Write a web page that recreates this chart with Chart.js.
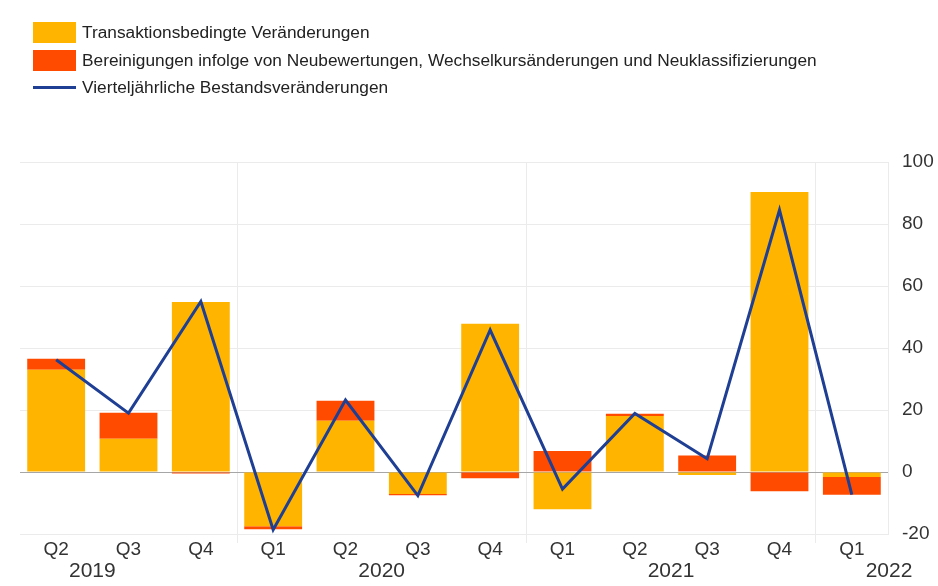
<!DOCTYPE html>
<html>
<head>
<meta charset="utf-8">
<script src="https://cdn.jsdelivr.net/npm/chart.js@4.4.1/dist/chart.umd.min.js"></script>
<style>
  html, body { margin: 0; padding: 0; background: #fff; }
  #wrap { position: relative; width: 938px; height: 586px; overflow: hidden; }
  #chart { position: absolute; left: 0; top: 0; }
  #legend { position: absolute; left: 33px; top: 22px; font: 17.3px "Liberation Sans", Arial, sans-serif; color: #222; }
  .item { position: relative; height: 21px; margin-bottom: 6.7px; white-space: nowrap; }
  .swatch { position: absolute; left: 0; top: 0; width: 43px; height: 21px; }
  .swatch.line { top: 9px; height: 3px; }
  .text { position: absolute; left: 49px; top: 0; line-height: 21px; }
</style>
</head>
<body>
<div id="wrap">
  <canvas id="chart" width="938" height="586"></canvas>
  <div id="legend"></div>
</div>
<script>
const FONT = '"Liberation Sans", Arial, sans-serif'
const TEXT_COLOR = '#333'

// x axis: quarters, years written underneath
const quarters = ['Q2', 'Q3', 'Q4', 'Q1', 'Q2', 'Q3', 'Q4', 'Q1', 'Q2', 'Q3', 'Q4', 'Q1']
const years = ['2019', '2020', '2021', '2022']
const yearFirstQuarter = [-1, 3, 7, 11] // index of each year's Q1 (2019 Q1 is off the chart)

// series, EUR bn
const transactions = [33, 10.7, 54.8, -17.5, 16.5, -7.1, 47.8, -12, 18.1, -1, 90.3, -1.6]
const adjustments = [3.5, 8.4, -0.5, -1, 6.5, -0.4, -2, 6.8, 0.7, 5.3, -6.2, -5.7]
const stockChanges = [36.2, 19, 55, -18.6, 23.2, -7.6, 45.8, -5.5, 18.9, 4.3, 84.5, -7.3]

const seriesNames = [
  'Transaktionsbedingte Veränderungen',
  'Bereinigungen infolge von Neubewertungen, Wechselkursänderungen und Neuklassifizierungen',
  'Vierteljährliche Bestandsveränderungen'
]

const yMin = -20
const yMax = 100
const yStep = 20

const COLORS = {
  orange: '#ffb400',
  red: '#ff4b00',
  blue: '#1e3f93',
  grid: '#ebebeb',
  zero: '#a6a6a6'
}

const isYearStart = (ctx) => yearFirstQuarter.includes(ctx.index)

/* draws the year row under the quarter labels */
const yearLabels = {
  id: 'yearLabels',
  afterDraw (chart) {
    const { ctx, chartArea, scales: { x } } = chart
    ctx.save()
    ctx.font = `21px ${FONT}`
    ctx.fillStyle = TEXT_COLOR
    ctx.textAlign = 'center'
    ctx.textBaseline = 'middle'
    years.forEach((year, i) => {
      const first = yearFirstQuarter[i]
      let cx = (x.getPixelForValue(first) + x.getPixelForValue(first + 3)) / 2
      cx = Math.min(Math.max(cx, chartArea.left + 68), chartArea.right + 1)
      ctx.fillText(year, cx, chartArea.bottom + 37)
    })
    ctx.restore()
  }
}

const chart = new Chart(document.getElementById('chart'), {
  type: 'bar',
  data: {
    labels: quarters,
    datasets: [
      {
        type: 'line',
        label: seriesNames[2],
        data: stockChanges,
        borderColor: COLORS.blue,
        backgroundColor: COLORS.blue,
        borderWidth: 3,
        pointRadius: 0,
        tension: 0,
        order: 0
      },
      {
        label: seriesNames[0],
        data: transactions,
        backgroundColor: COLORS.orange,
        barPercentage: 0.8,
        categoryPercentage: 1,
        order: 1
      },
      {
        label: seriesNames[1],
        data: adjustments,
        backgroundColor: COLORS.red,
        barPercentage: 0.8,
        categoryPercentage: 1,
        order: 2
      }
    ]
  },
  options: {
    responsive: false,
    animation: false,
    layout: { padding: { left: 20, top: 162, right: 0, bottom: 0 } },
    plugins: {
      legend: { display: false },
      tooltip: { enabled: false }
    },
    scales: {
      x: {
        stacked: true,
        offset: true,
        afterFit: (scale) => { scale.height = 52 },
        grid: {
          offset: true,
          color: (ctx) => isYearStart(ctx) ? COLORS.grid : 'rgba(0,0,0,0)',
          tickColor: (ctx) => isYearStart(ctx) ? COLORS.grid : 'rgba(0,0,0,0)',
          tickLength: 9
        },
        border: { display: false },
        ticks: {
          color: TEXT_COLOR,
          font: { family: FONT, size: 19 },
          padding: -5,
          maxRotation: 0,
          autoSkip: false
        }
      },
      y: {
        stacked: true,
        position: 'right',
        min: yMin,
        max: yMax,
        afterFit: (scale) => { scale.width = 50 },
        grid: {
          color: (ctx) => ctx.tick && ctx.tick.value === 0 ? COLORS.zero : COLORS.grid,
          drawTicks: false
        },
        border: { display: true, color: COLORS.grid },
        ticks: {
          stepSize: yStep,
          color: TEXT_COLOR,
          font: { family: FONT, size: 19 },
          padding: 14
        }
      }
    }
  },
  plugins: [yearLabels]
})

// html legend, bars first then the line
const legend = document.getElementById('legend')
const legendOrder = [1, 2, 0]
legendOrder.forEach((i) => {
  const ds = chart.data.datasets[i]
  const item = document.createElement('div')
  item.className = 'item'
  const swatch = document.createElement('span')
  swatch.className = ds.type === 'line' ? 'swatch line' : 'swatch'
  swatch.style.background = ds.type === 'line' ? ds.borderColor : ds.backgroundColor
  const text = document.createElement('span')
  text.className = 'text'
  text.textContent = ds.label
  item.appendChild(swatch)
  item.appendChild(text)
  legend.appendChild(item)
})
</script>
</body>
</html>
